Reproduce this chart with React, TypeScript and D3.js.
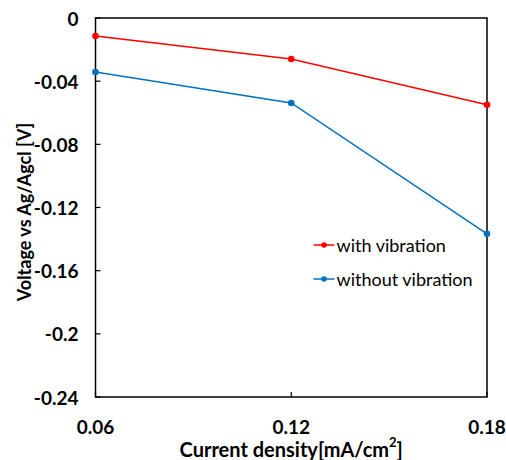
import React from 'react';
import * as d3 from 'd3';

const currentDensity = [0.06, 0.12, 0.18];
const withVibration = [-0.0114, -0.026, -0.055];
const withoutVibration = [-0.0342, -0.0538, -0.1367];
const yTicks = [0, -0.04, -0.08, -0.12, -0.16, -0.2, -0.24];
const yTickLabels = ['0', '-0.04', '-0.08', '-0.12', '-0.16', '-0.2', '-0.24'];
const xTickLabels = ['0.06', '0.12', '0.18'];

const series = [
  { name: 'with vibration', values: withVibration, color: '#ff0000' },
  { name: 'without vibration', values: withoutVibration, color: '#0070c0' },
];

const W = 506;
const H = 460;
const margin = { top: 18, right: 19, bottom: 63, left: 95.5 };
const font = "Lato, 'Open Sans', sans-serif";

const App = () => {
  const innerW = W - margin.left - margin.right;
  const innerH = H - margin.top - margin.bottom;

  const x = d3.scaleLinear().domain([0.06, 0.18]).range([0, innerW]);
  const y = d3.scaleLinear().domain([-0.24, 0]).range([innerH, 0]);

  const line = d3
    .line<number>()
    .x((_, i) => x(currentDensity[i]))
    .y((d) => y(d));

  return (
    <svg
      width={W}
      height={H}
      style={{ position: 'absolute', left: 0, top: 0, background: '#fff' }}
    >
      <g transform={`translate(${margin.left},${margin.top})`}>
        {/* frame */}
        <rect x={0} y={0} width={innerW} height={innerH} fill="none" stroke="#000" strokeWidth={1.5} />

        {/* y ticks, pointing inward */}
        {yTicks.map((t, i) => (
          <g key={t}>
            <line x1={0} x2={5} y1={y(t)} y2={y(t)} stroke="#000" strokeWidth={1.2} />
            <text
              x={-17}
              y={y(t)}
              textAnchor="end"
              dominantBaseline="central"
              fontFamily={font}
              fontWeight="bold"
              fontSize={19}
            >
              {yTickLabels[i]}
            </text>
          </g>
        ))}

        {/* x ticks */}
        {currentDensity.map((t, i) => (
          <g key={t}>
            <line x1={x(t)} x2={x(t)} y1={innerH} y2={innerH - 5} stroke="#000" strokeWidth={1.2} />
            <text
              x={x(t)}
              y={innerH + 29}
              textAnchor="middle"
              dominantBaseline="central"
              fontFamily={font}
              fontWeight="bold"
              fontSize={19}
            >
              {xTickLabels[i]}
            </text>
          </g>
        ))}

        {/* series */}
        {series.map((s) => (
          <g key={s.name}>
            <path d={line(s.values) ?? ''} fill="none" stroke={s.color} strokeWidth={1.5} />
            {s.values.map((v, i) => (
              <circle key={i} cx={x(currentDensity[i])} cy={y(v)} r={3.3} fill={s.color} />
            ))}
          </g>
        ))}

        {/* legend */}
        {series.map((s, i) => {
          const ly = 227 + i * 34;
          return (
            <g key={s.name} transform={`translate(218,${ly})`}>
              <line x1={0} x2={21} y1={0} y2={0} stroke={s.color} strokeWidth={1.5} />
              <circle cx={10.5} cy={0} r={2.8} fill={s.color} />
              <text
                x={23}
                y={0}
                dominantBaseline="central"
                fontFamily={font}
                fontSize={18}
              >
                {s.name}
              </text>
            </g>
          );
        })}
      </g>

      {/* axis titles */}
      <text
        x={margin.left + innerW / 2}
        y={449}
        textAnchor="middle"
        dominantBaseline="central"
        fontFamily={font}
        fontWeight="bold"
        fontSize={20}
      >
        Current density[mA/cm<tspan dy={-7} fontSize={13}>2</tspan>
        <tspan dy={7}>]</tspan>
      </text>
      <text
        transform={`translate(24,212) rotate(-90)`}
        textAnchor="middle"
        dominantBaseline="central"
        fontFamily={font}
        fontWeight="bold"
        fontSize={18}
      >
        Voltage vs Ag/Agcl [V]
      </text>
    </svg>
  );
};

export default App;
